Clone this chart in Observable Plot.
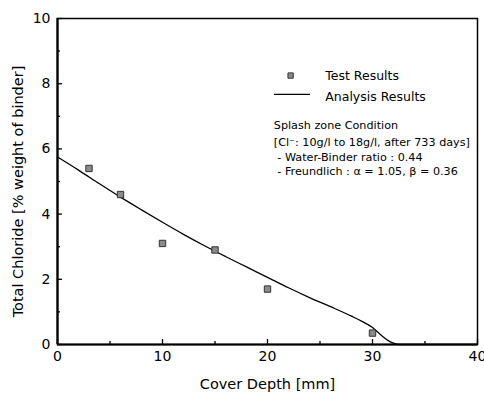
<!DOCTYPE html>
<html>
<head>
<meta charset="utf-8">
<script src="https://cdn.jsdelivr.net/npm/d3@7"></script>
<script src="https://cdn.jsdelivr.net/npm/@observablehq/plot@0.6"></script>
<style>
  html, body { margin: 0; padding: 0; background: #fff; }
  #chart svg { display: block; }
</style>
</head>
<body>
<div id="chart"></div>
<script>
// Measured chloride content at each cover depth
const testDepth = [3, 6, 10, 15, 20, 30];
const testChloride = [5.4, 4.6, 3.1, 2.9, 1.7, 0.35];

// Analysis curve (Freundlich isotherm model)
const curveDepth = [0, 2, 4, 6, 8, 10, 12, 14, 16, 18, 20, 22, 24, 26, 28, 29, 30, 30.5, 31, 31.5, 32, 32.5, 40];
const curveChloride = [5.75, 5.35, 4.93, 4.52, 4.13, 3.75, 3.38, 3.03, 2.7, 2.38, 2.06, 1.74, 1.44, 1.16, 0.87, 0.71, 0.52, 0.38, 0.24, 0.12, 0.04, 0, 0];

const xTicks = [0, 10, 20, 30, 40];
const xMinor = [5, 15, 25, 35];
const yTicks = [0, 2, 4, 6, 8, 10];
const yMinor = [1, 3, 5, 7, 9];

const legendLabels = ["Test Results", "Analysis Results"];
const noteLines = [
  "Splash zone Condition",
  "[Cl\u207B: 10g/l to 18g/l, after 733 days]",
  " - Water-Binder ratio : 0.44",
  " - Freundlich : \u03B1 = 1.05, \u03B2 = 0.36"
];

const tests = testDepth.map((d, i) => ({depth: d, cl: testChloride[i]}));
const curve = curveDepth.map((d, i) => ({depth: d, cl: curveChloride[i]}));

const font = "'DejaVu Sans', Verdana, sans-serif";

const chart = Plot.plot({
  width: 484,
  height: 397,
  marginLeft: 57,
  marginRight: 7,
  marginTop: 18,
  marginBottom: 53,
  style: {fontFamily: font, background: "#fff", color: "#000"},
  x: {domain: [0, 40]},
  y: {domain: [0, 10]},
  marks: [
    // inward ticks
    Plot.axisX(xTicks, {tickSize: -5, text: null, label: null, strokeWidth: 1.3}),
    Plot.axisX(xMinor, {tickSize: -3, text: null, label: null, strokeWidth: 1.3}),
    Plot.axisY(yTicks, {tickSize: -5, text: null, label: null, strokeWidth: 1.3}),
    Plot.axisY(yMinor, {tickSize: -3, text: null, label: null, strokeWidth: 1.3}),
    // tick labels
    Plot.axisX(xTicks, {tickSize: 0, tickPadding: 7, fontSize: 14, label: null}),
    Plot.axisY(yTicks, {tickSize: 0, tickPadding: 7, fontSize: 14, label: null}),
    Plot.frame({stroke: "#000", strokeWidth: 1.5}),
    Plot.ruleX([0], {stroke: "#000", strokeWidth: 2.2}),
    Plot.ruleY([0], {stroke: "#000", strokeWidth: 2.2}),
    // analysis curve
    Plot.line(curve, {x: "depth", y: "cl", stroke: "#000", strokeWidth: 1.3, curve: "monotone-x"}),
    // test points
    Plot.dot(tests, {x: "depth", y: "cl", symbol: "square", r: 3.6, fill: "#8a8a8a", stroke: "#333", strokeWidth: 1}),
    // legend
    Plot.dot([legendLabels[0]], {x: 22.2, y: 8.25, symbol: "square", r: 3, fill: "#8a8a8a", stroke: "#333", strokeWidth: 1}),
    Plot.ruleY([7.67], {x1: 20.67, x2: 24.1, stroke: "#000", strokeWidth: 1.3}),
    Plot.text(legendLabels, {x: 25.5, y: (d, i) => [8.25, 7.58][i], text: d => d, textAnchor: "start", fontSize: 12.5}),
    // conditions note
    Plot.text(noteLines, {x: 20.6, y: (d, i) => [6.72, 6.2, 5.74, 5.31][i], text: d => d, textAnchor: "start", fontSize: 11.2}),
    // axis titles
    Plot.text(["Cover Depth [mm]"], {frameAnchor: "bottom", dy: 44, fontSize: 14.5, text: d => d}),
    Plot.text(["Total Chloride [% weight of binder]"], {frameAnchor: "left", textAnchor: "middle", dx: -39, dy: 10, rotate: -90, fontSize: 14.5, text: d => d})
  ]
});

document.getElementById("chart").appendChild(chart);
</script>
</body>
</html>
